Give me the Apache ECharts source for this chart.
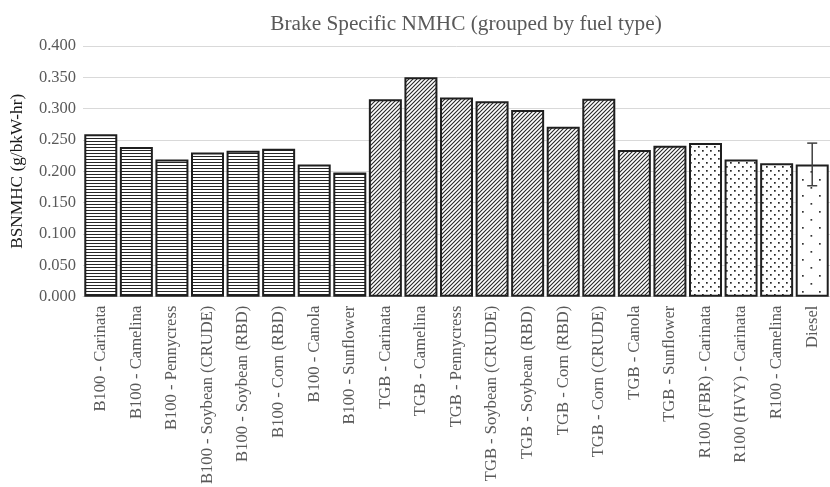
<!DOCTYPE html>
<html>
<head>
<meta charset="utf-8">
<script src="https://cdn.jsdelivr.net/npm/echarts@6/dist/echarts.min.js"></script>
<style>
  html, body { margin: 0; padding: 0; background: #fff; }
  #chart { width: 830px; height: 487px; }
</style>
</head>
<body>
<div id="chart"></div>
<script>
// Fuel samples along the x axis
const categories = [
  'B100 - Carinata', 'B100 - Camelina', 'B100 - Pennycress', 'B100 - Soybean (CRUDE)',
  'B100 - Soybean (RBD)', 'B100 - Corn (RBD)', 'B100 - Canola', 'B100 - Sunflower',
  'TGB - Carinata', 'TGB - Camelina', 'TGB - Pennycress', 'TGB - Soybean (CRUDE)',
  'TGB - Soybean (RBD)', 'TGB - Corn (RBD)', 'TGB - Corn (CRUDE)', 'TGB - Canola',
  'TGB - Sunflower', 'R100 (FBR) - Carinata', 'R100 (HVY) - Carinata', 'R100 - Camelina',
  'Diesel'
];
// Fuel type of each sample (controls the fill pattern)
const fuelTypes = [
  'B100', 'B100', 'B100', 'B100', 'B100', 'B100', 'B100', 'B100',
  'TGB', 'TGB', 'TGB', 'TGB', 'TGB', 'TGB', 'TGB', 'TGB', 'TGB',
  'R100', 'R100', 'R100',
  'Diesel'
];
// Brake specific NMHC, g/bkW-hr
const bsnmhc = [
  0.259, 0.239, 0.219, 0.230, 0.233, 0.236, 0.211, 0.198,
  0.315, 0.350, 0.318, 0.312, 0.298, 0.271, 0.316, 0.234, 0.241,
  0.245, 0.219, 0.213,
  0.211
];
// Error bar half-width (only the diesel baseline has one)
const errHalf = [
  null, null, null, null, null, null, null, null,
  null, null, null, null, null, null, null, null, null,
  null, null, null,
  0.034
];
const yTicks = { min: 0, max: 0.4, step: 0.05 };

function makeTile(w, h, draw) {
  const c = document.createElement('canvas');
  c.width = w; c.height = h;
  const g = c.getContext('2d');
  g.fillStyle = '#ffffff';
  g.fillRect(0, 0, w, h);
  draw(g, w, h);
  return { image: c, repeat: 'repeat' };
}

const patterns = {
  B100: makeTile(4, 3, (g, w) => {
    g.fillStyle = '#262626';
    g.fillRect(0, 0, w, 1);
  }),
  TGB: makeTile(4, 4, (g, w, h) => {
    g.strokeStyle = '#262626';
    g.lineWidth = 1.1;
    g.beginPath();
    g.moveTo(-1, h + 1); g.lineTo(w + 1, -1);
    g.moveTo(-2, 2); g.lineTo(2, -2);
    g.moveTo(w - 2, h + 2); g.lineTo(w + 2, h - 2);
    g.stroke();
  }),
  R100: makeTile(8, 8, (g) => {
    g.fillStyle = '#262626';
    g.fillRect(2, 2, 1.7, 1.7);
    g.fillRect(6, 6, 1.7, 1.7);
  }),
  Diesel: makeTile(17, 16, (g) => {
    g.fillStyle = '#333333';
    g.fillRect(3, 3, 1.7, 1.7);
    g.fillRect(11.5, 11, 1.7, 1.7);
  })
};

const serif = '"Liberation Serif", "Times New Roman", serif';
const grey = '#595959';

const barData = bsnmhc.map((v, i) => ({
  value: v,
  itemStyle: { color: patterns[fuelTypes[i]] }
}));

const errData = [];
errHalf.forEach((e, i) => {
  if (e != null) errData.push([i, bsnmhc[i] - e, bsnmhc[i] + e]);
});

const chart = echarts.init(document.getElementById('chart'), null, { renderer: 'canvas' });
chart.setOption({
  animation: false,
  backgroundColor: '#ffffff',
  title: {
    text: 'Brake Specific NMHC (grouped by fuel type)',
    left: 461,
    top: 9,
    textAlign: 'center',
    textStyle: { fontFamily: serif, fontSize: 21.3, fontWeight: 'normal', color: grey }
  },
  grid: { left: 83, top: 46, width: 756, height: 251, containLabel: false },
  xAxis: {
    type: 'category',
    data: categories,
    axisLine: { lineStyle: { color: '#d9d9d9', width: 1 } },
    axisTick: { show: false },
    axisLabel: {
      rotate: 90,
      interval: 0,
      margin: 9,
      fontFamily: serif,
      fontSize: 16.6,
      color: grey
    }
  },
  yAxis: {
    type: 'value',
    min: yTicks.min,
    max: yTicks.max,
    interval: yTicks.step,
    name: 'BSNMHC (g/bkW-hr)',
    nameLocation: 'middle',
    nameGap: 57,
    nameTextStyle: { fontFamily: serif, fontSize: 17.3, color: '#1a1a1a' },
    axisLine: { show: false },
    axisTick: { show: false },
    splitLine: { lineStyle: { color: '#d9d9d9', width: 1 } },
    axisLabel: {
      margin: 7,
      fontFamily: serif,
      fontSize: 16.5,
      color: grey,
      formatter: v => v.toFixed(3)
    }
  },
  series: [
    {
      type: 'bar',
      data: barData,
      barWidth: 33,
      itemStyle: { borderColor: '#1f1f1f', borderWidth: 2 }
    },
    {
      type: 'custom',
      data: errData,
      z: 5,
      renderItem: (params, api) => {
        const x = api.value(0);
        const lo = api.coord([x, api.value(1)]);
        const hi = api.coord([x, api.value(2)]);
        const cap = 5;
        const style = { stroke: '#404040', lineWidth: 1.5 };
        return {
          type: 'group',
          children: [
            { type: 'line', shape: { x1: hi[0], y1: hi[1], x2: lo[0], y2: lo[1] }, style },
            { type: 'line', shape: { x1: hi[0] - cap, y1: hi[1], x2: hi[0] + cap, y2: hi[1] }, style },
            { type: 'line', shape: { x1: lo[0] - cap, y1: lo[1], x2: lo[0] + cap, y2: lo[1] }, style }
          ]
        };
      }
    }
  ]
});
</script>
</body>
</html>
